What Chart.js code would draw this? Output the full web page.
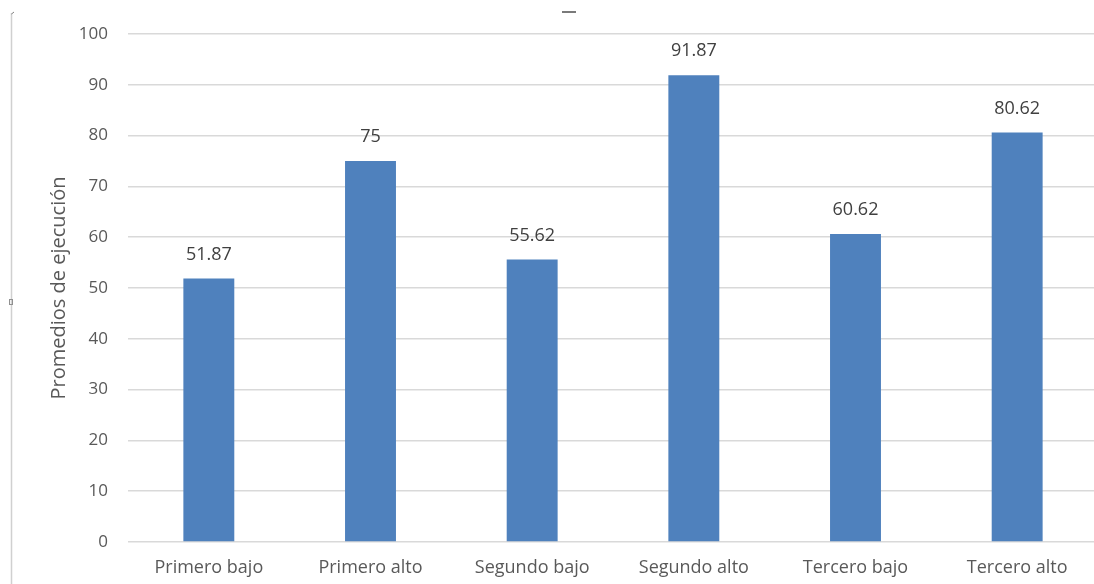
<!DOCTYPE html>
<html>
<head>
<meta charset="utf-8">
<script src="https://cdn.jsdelivr.net/npm/chart.js@4/dist/chart.umd.min.js"></script>
<style>
  html, body { margin: 0; padding: 0; background: #fff; overflow: hidden; }
  #wrap { position: relative; width: 1098px; height: 584px; }
</style>
</head>
<body>
<div id="wrap"><canvas id="c" width="1098" height="584"></canvas></div>
<script>
// Grupos evaluados y su promedio de ejecución
const categories = ['Primero bajo', 'Primero alto', 'Segundo bajo', 'Segundo alto', 'Tercero bajo', 'Tercero alto'];
const promedios = [51.87, 75, 55.62, 91.87, 60.62, 80.62];
const yTicks = [0, 10, 20, 30, 40, 50, 60, 70, 80, 90, 100];

const FONT = '"Open Sans", Lato, sans-serif';
const BAR = '#4F81BD';
const GRID = '#D9D9D9';
const TEXT = '#595959';

// Valores escritos encima de cada barra
const valueLabels = {
  id: 'valueLabels',
  afterDatasetsDraw(chart) {
    const ctx = chart.ctx;
    const meta = chart.getDatasetMeta(0);
    ctx.save();
    ctx.font = '18px ' + FONT;
    ctx.fillStyle = '#404040';
    ctx.textAlign = 'center';
    ctx.textBaseline = 'middle';
    meta.data.forEach((bar, i) => {
      ctx.fillText(String(promedios[i]), bar.x, bar.y - 24);
    });
    ctx.restore();
  }
};

// Marco del área del gráfico recortado
const frame = {
  id: 'frame',
  beforeDraw(chart) {
    const ctx = chart.ctx;
    ctx.save();
    ctx.strokeStyle = '#D0D0D0';
    ctx.lineWidth = 1.5;
    ctx.beginPath();
    ctx.moveTo(11.5, 13);
    ctx.lineTo(11.5, 584);
    ctx.stroke();
    ctx.strokeStyle = '#808080';
    ctx.lineWidth = 1;
    ctx.beginPath();
    ctx.moveTo(11.5, 14);
    ctx.lineTo(14, 12);
    ctx.stroke();
    ctx.strokeStyle = '#909090';
    ctx.strokeRect(9.5, 299.5, 3, 5);
    ctx.fillStyle = '#7a7a7a';
    ctx.fillRect(562, 11, 14, 2);
    ctx.restore();
  }
};

new Chart(document.getElementById('c'), {
  type: 'bar',
  data: {
    labels: categories,
    datasets: [{
      data: promedios,
      backgroundColor: BAR,
      borderWidth: 0,
      barPercentage: 0.315,
      categoryPercentage: 1
    }]
  },
  options: {
    responsive: false,
    animation: false,
    devicePixelRatio: 1,
    layout: { padding: { top: 34, right: 0, bottom: 0, left: 0 } },
    plugins: {
      legend: { display: false },
      tooltip: { enabled: false },
      title: { display: false }
    },
    scales: {
      x: {
        grid: { display: false, drawTicks: false },
        border: { display: false },
        ticks: { color: TEXT, font: { family: FONT, size: 18 }, padding: 15 },
        afterFit(scale) { scale.height = 42; }
      },
      y: {
        min: 0,
        max: 100,
        afterBuildTicks(scale) { scale.ticks = yTicks.map(v => ({ value: v })); },
        grid: { color: GRID, lineWidth: 1.5, drawTicks: false },
        border: { display: false },
        ticks: { color: TEXT, font: { family: FONT, size: 17 }, padding: 20 },
        title: {
          display: true,
          text: 'Promedios de ejecución',
          color: TEXT,
          font: { family: FONT, size: 20 },
          padding: { top: 47, bottom: 0 }
        },
        afterFit(scale) { scale.width = 128; }
      }
    }
  },
  plugins: [frame, valueLabels]
});
</script>
</body>
</html>
